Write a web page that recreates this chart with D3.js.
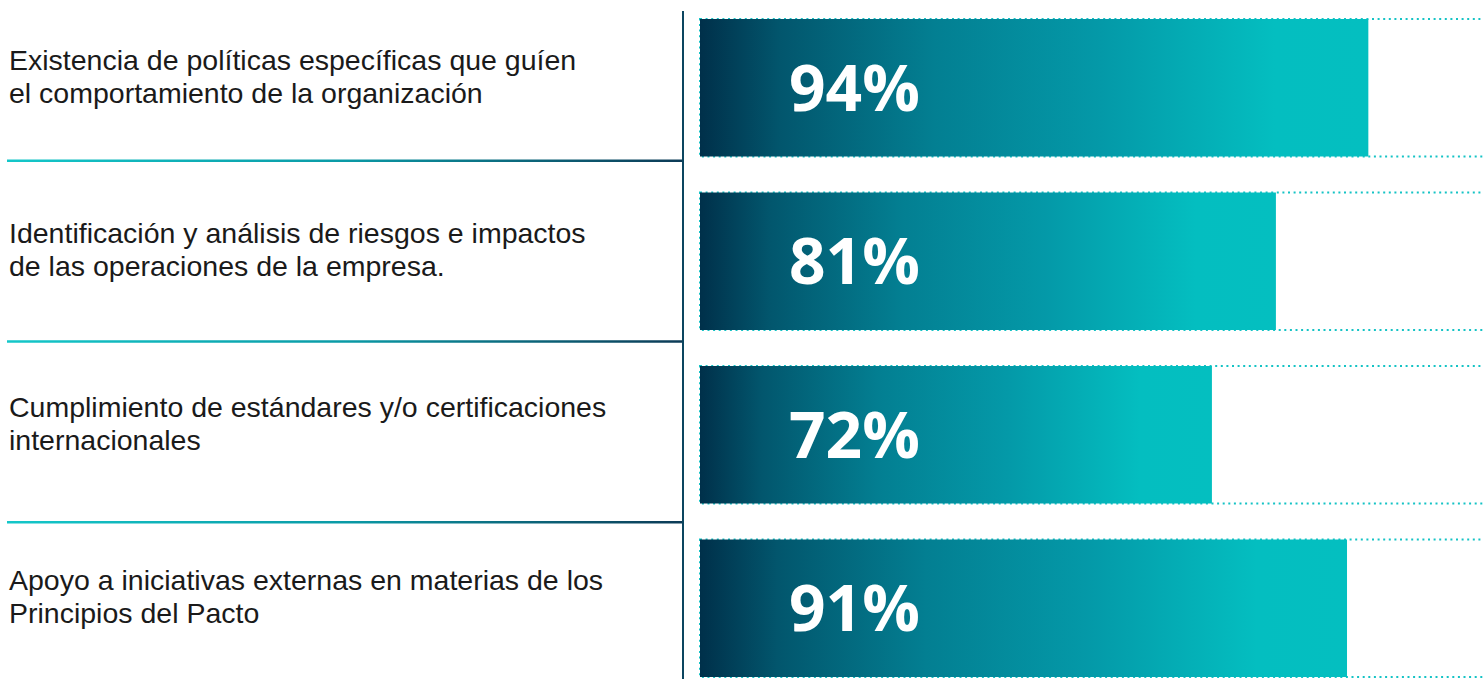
<!DOCTYPE html>
<html>
<head>
<meta charset="utf-8">
<script src="https://cdn.jsdelivr.net/npm/d3@7"></script>
<style>
  html, body { margin: 0; padding: 0; background: #fff; }
  svg { display: block; }
</style>
</head>
<body>
<svg id="chart"></svg>
<script>
const width = 1484;
const height = 679;

// data
const categories = [
  'politicas',
  'riesgos',
  'estandares',
  'iniciativas'
];
const labelLines = [
  ['Existencia de políticas específicas que guíen', 'el comportamiento de la organización'],
  ['Identificación y análisis de riesgos e impactos', 'de las operaciones de la empresa.'],
  ['Cumplimiento de estándares y/o certificaciones', 'internacionales'],
  ['Apoyo a iniciativas externas en materias de los', 'Principios del Pacto']
];
const values = [94, 81, 72, 91];

const svg = d3.select('#chart')
  .attr('width', width)
  .attr('height', height);

const defs = svg.append('defs');

const barGrad = defs.append('linearGradient')
  .attr('id', 'barGrad')
  .attr('x1', 0).attr('x2', 1).attr('y1', 0).attr('y2', 0);
[[0, '#00304a'], [0.12, '#02566d'], [0.35, '#037f92'], [0.6, '#0499a8'], [0.86, '#04bec0'], [1, '#04bfc0']]
  .forEach(([o, c]) => barGrad.append('stop').attr('offset', o).attr('stop-color', c));

const sepGrad = defs.append('linearGradient')
  .attr('id', 'sepGrad')
  .attr('gradientUnits', 'userSpaceOnUse')
  .attr('x1', 7).attr('x2', 683).attr('y1', 0).attr('y2', 0);
[[0, '#14c7c9'], [0.5, '#0a9aa6'], [1, '#0c3a56']]
  .forEach(([o, c]) => sepGrad.append('stop').attr('offset', o).attr('stop-color', c));

const x = d3.scaleLinear()
  .domain([0, 100])
  .range([700, 1411]);

const yBar = d3.scaleBand()
  .domain(categories)
  .range([19, 677])
  .paddingInner(0.2075);

const yRow = d3.scaleBand()
  .domain(categories)
  .range([-20, 703]);

// row separators on the label side
svg.append('g')
  .selectAll('line')
  .data(categories.slice(1))
  .enter()
  .append('line')
  .attr('x1', 7)
  .attr('x2', 683)
  .attr('y1', (d) => yRow(d))
  .attr('y2', (d) => yRow(d))
  .attr('stroke', 'url(#sepGrad)')
  .attr('stroke-width', 2.5);

// vertical axis line
svg.append('line')
  .attr('x1', 683).attr('x2', 683)
  .attr('y1', 11).attr('y2', height)
  .attr('stroke', '#0c4660')
  .attr('stroke-width', 2);

const rows = svg.append('g')
  .selectAll('g')
  .data(categories)
  .enter()
  .append('g');

// dotted track
rows.append('rect')
  .attr('x', x(0))
  .attr('y', (d) => yBar(d))
  .attr('width', width + 20 - x(0))
  .attr('height', yBar.bandwidth())
  .attr('fill', 'none')
  .attr('stroke', '#14c3c5')
  .attr('stroke-width', 2)
  .attr('stroke-dasharray', '2,3.6');

// bars
rows.append('rect')
  .attr('x', x(0))
  .attr('y', (d) => yBar(d))
  .attr('width', (d, i) => x(values[i]) - x(0))
  .attr('height', yBar.bandwidth())
  .attr('fill', 'url(#barGrad)');

// value labels
rows.append('text')
  .attr('x', x(0) + 89)
  .attr('y', (d) => yBar(d) + yBar.bandwidth() / 2 + 23)
  .attr('fill', '#fff')
  .attr('font-family', '"Open Sans", sans-serif')
  .attr('font-weight', 700)
  .attr('font-size', 64)
  .text((d, i) => values[i] + '%');

// category labels
const labels = rows.append('text')
  .attr('font-family', '"Liberation Sans", Arial, sans-serif')
  .attr('font-size', 28.5)
  .attr('fill', '#1a1a1a')
  .attr('transform', (d) => `translate(9, ${yBar(d) + yBar.bandwidth() / 2 - 8})`);

labels.selectAll('tspan')
  .data((d, i) => labelLines[i].map((t, j) => ({ t, j })))
  .enter()
  .append('tspan')
  .attr('x', 0)
  .attr('y', (d) => d.j === 0 ? -10 : 23)
  .text((d) => d.t);
</script>
</body>
</html>
